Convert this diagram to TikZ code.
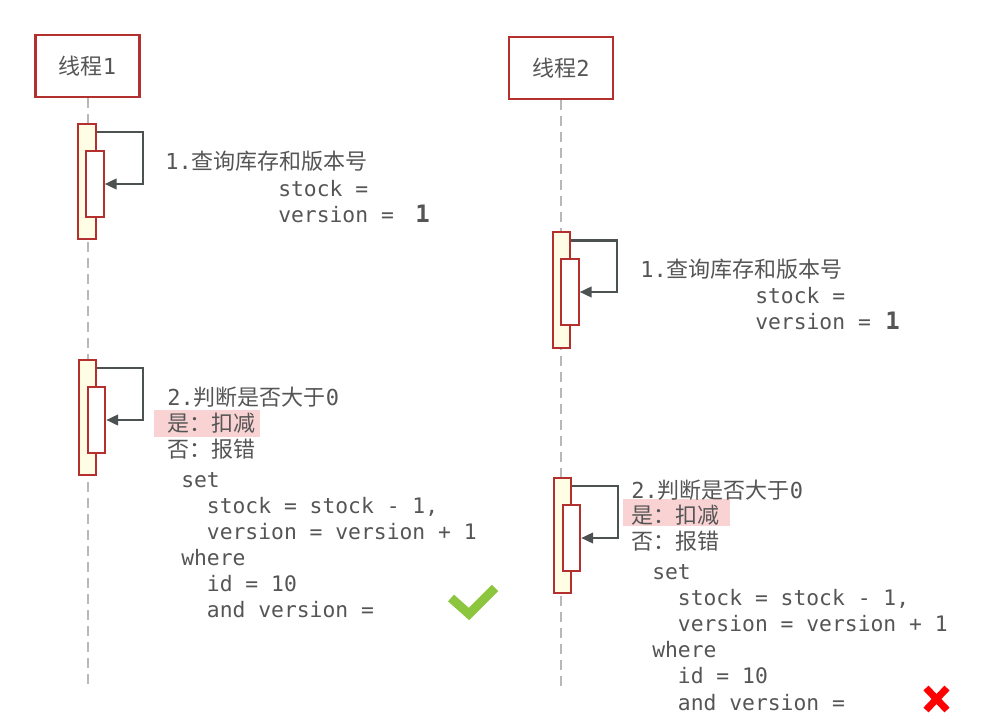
\documentclass[tikz,border=0pt]{standalone}
\usepackage{fontspec}
\newfontfamily\cjk{Noto Sans CJK SC}
\newfontfamily\code{DejaVu Sans Mono}
\usetikzlibrary{arrows.meta}

\definecolor{boxred}{HTML}{B3302F}
\definecolor{barfill}{HTML}{FFFDE3}
\definecolor{txtgray}{HTML}{555555}
\definecolor{arrgray}{HTML}{4C5252}
\definecolor{hlpink}{HTML}{F9D3D3}
\definecolor{okgreen}{HTML}{8CC63F}

\newcommand{\ind}{\phantom{xx}}

\begin{document}
\begin{tikzpicture}[
    x=0.75pt, y=-0.75pt,
    thread/.style={draw=boxred, line width=1.6pt, minimum width=78pt, minimum height=47pt, text=txtgray, font=\cjk\fontsize{16.5}{20}\selectfont},
    lifeline/.style={draw=black!28, line width=1.5pt, dash pattern=on 7.5pt off 4.5pt},
    actbar/.style={draw=boxred, fill=barfill, line width=1.6pt, minimum width=13pt, minimum height=86.5pt, inner sep=0pt},
    actin/.style={draw=boxred, fill=white, line width=1.6pt, minimum width=13pt, minimum height=49.5pt, inner sep=0pt},
    selfmsg/.style={draw=arrgray, line width=1.8pt, -{Triangle[length=9pt, width=8pt]}},
    cjkline/.style={anchor=base west, inner sep=0pt, text=txtgray, font=\cjk\fontsize{16.5}{20}\selectfont},
    codeline/.style={anchor=base west, inner sep=0pt, text=txtgray, font=\code\fontsize{16}{20}\selectfont},
    bigone/.style={anchor=base west, inner sep=0pt, text=txtgray, font=\code\bfseries\fontsize{18}{20}\selectfont}
]
\useasboundingbox (0,0) rectangle (986,724);

% Threads
\node[thread] (t1) at (87.5,66) {线程{\code 1}};
\node[thread] (t2) at (561,68) {线程{\code 2}};
\coordinate (t1end) at (t1.south |- 0,688);
\coordinate (t2end) at (t2.south |- 0,688);

% Lifelines
\draw[lifeline] (t1.south) -- (t1end);
\draw[lifeline] (t2.south) -- (t2end);

% Activation bars
\node[actbar] (t1a1) at (87,181.5) {};
\node[actin]  (t1i1) at (95,184) {};
\node[actbar] (t2a1) at (561.5,290) {};
\node[actin]  (t2i1) at (570,292) {};
\node[actbar] (t1a2) at (87.5,417.5) {};
\node[actin]  (t1i2) at (96.5,420) {};
\node[actbar] (t2a2) at (562.5,535.5) {};
\node[actin]  (t2i2) at (571.5,538) {};

% Self messages
\draw[selfmsg] ([yshift=-7pt]t1a1.north east) -- ++(46,0) |- (t1i1.east);
\draw[selfmsg] ([yshift=-7pt]t2a1.north east) -- ++(46,0) |- (t2i1.east);
\draw[selfmsg] ([yshift=-7pt]t1a2.north east) -- ++(46,0) |- (t1i2.east);
\draw[selfmsg] ([yshift=-7pt]t2a2.north east) -- ++(46,0) |- (t2i2.east);

% Thread 1: query
\node[cjkline]  (q1)   at (165,169) {{\code 1.}查询库存和版本号};
\node[codeline] (s1)   at (278,196) {stock =};
\node[codeline] (v1)   at (278,222) {version =};
\node[bigone]   (one1) at (415,222) {1};

% Thread 2: query
\node[cjkline]  (q2)   at (640,277) {{\code 1.}查询库存和版本号};
\node[codeline] (s2)   at (755,303) {stock =};
\node[codeline] (v2)   at (755,329) {version =};
\node[bigone]   (one2) at (885,329) {1};

% Thread 1: check and update
\fill[hlpink] (154,410) rectangle (260,437);
\node[cjkline] (j1) at (167,405) {{\code 2.}判断是否大于{\code 0}};
\node[cjkline] (y1) at (167,431) {是：扣减};
\node[cjkline] (n1) at (167,457) {否：报错};
\foreach \ln [count=\i from 0] in {set, \ind stock = stock - 1{,}, \ind version = version + 1, where, \ind id = 10, \ind and version =}
    \node[codeline] (c1-\i) at (181,487+26*\i) {\ln};

% Thread 2: check and update
\fill[hlpink] (623,499) rectangle (730,526);
\node[cjkline] (j2) at (631,498) {{\code 2.}判断是否大于{\code 0}};
\node[cjkline] (y2) at (631,523) {是：扣减};
\node[cjkline] (n2) at (631,549) {否：报错};
\foreach \ln [count=\i from 0] in {set, \ind stock = stock - 1{,}, \ind version = version + 1, where, \ind id = 10, \ind and version =}
    \node[codeline] (c2-\i) at (652,579+26.2*\i) {\ln};

% Results
\draw[okgreen, line width=6.75pt] (451,598) -- (469,614) -- (495,588);
\draw[red, line width=5.25pt] (926,688) -- (947,710);
\draw[red, line width=5.25pt] (947,688) -- (926,710);

\end{tikzpicture}
\end{document}
